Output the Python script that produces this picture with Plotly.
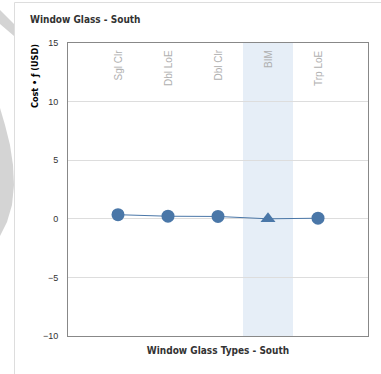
import plotly.graph_objects as go

categories = ["Sgl Clr", "Dbl LoE", "Dbl Clr", "BIM", "Trp LoE"]
costs = [0.35, 0.22, 0.2, 0.0, 0.05]
symbols = ["circle", "circle", "circle", "triangle-up", "circle"]
highlight = "BIM"
y_ticks = [-10, -5, 0, 5, 10, 15]

W, H = 381, 374
L, R, T, B = 68, 13, 43, 38
PW, PH = W - L - R, H - T - B


def px(x):
    return (x - L) / PW


def py(y):
    return 1 - (y - T) / PH


def path(points):
    return "M " + " L ".join(f"{px(x):.5f},{py(y):.5f}" for x, y in points) + " Z"


xs = list(range(len(categories)))
color = "#4a77a8"
fig = go.Figure()
fig.add_trace(go.Scatter(
    x=xs, y=costs, mode="lines+markers",
    line=dict(color=color, width=1),
    marker=dict(color=color, size=13, symbol=symbols),
    hoverinfo="skip", showlegend=False))

hi = categories.index(highlight)
fig.add_shape(type="rect", xref="x", yref="paper", x0=hi-0.5, x1=hi+0.5, y0=0, y1=1,
              fillcolor="#e6eef7", line_width=0, layer="below")

for i, c in enumerate(categories):
    fig.add_annotation(x=i, y=1, xref="x", yref="paper", text=c, textangle=-90,
                       showarrow=False, yanchor="top", yshift=-5,
                       font=dict(family="Liberation Sans", size=10, color="#b0b0b0"))

# background watermark pieces (left of card)
wm = "#d4d4d4"
fig.add_shape(type="path", xref="paper", yref="paper",
              path=path([(0, 10), (14, 24), (14, 36), (0, 24)]),
              fillcolor=wm, line_width=0, layer="below")
crescent = [(0, 108), (5, 125), (10, 145), (13, 165), (14, 185), (12, 205), (7, 222), (0, 236)]
fig.add_shape(type="path", xref="paper", yref="paper", path=path(crescent),
              fillcolor=wm, line_width=0, layer="below")

# card frame
fig.add_shape(type="line", xref="paper", yref="paper", x0=px(14.5), x1=px(14.5), y0=py(H), y1=py(2.5),
              line=dict(color="#dddddd", width=1))
fig.add_shape(type="line", xref="paper", yref="paper", x0=px(14.5), x1=px(W), y0=py(2.5), y1=py(2.5),
              line=dict(color="#dddddd", width=1))

fig.add_annotation(x=px(28), y=py(19), xref="paper", yref="paper", text="<b>Window Glass - South</b>",
                   showarrow=False, xanchor="left", yanchor="middle",
                   font=dict(family="DejaVu Sans Condensed", size=10, color="#333333"))

fig.add_annotation(x=px(35), y=py(42), xref="paper", yref="paper", text="<b>Cost • ƒ (USD)</b>",
                   showarrow=False, xanchor="center", yanchor="top", textangle=-90,
                   font=dict(family="DejaVu Sans Condensed", size=9, color="#000000"))

fig.update_layout(
    width=W, height=H,
    margin=dict(l=L, r=R, t=T, b=B),
    paper_bgcolor="white", plot_bgcolor="white",
    xaxis=dict(range=[-1, 5], showticklabels=False, showgrid=False, zeroline=False,
               showline=True, linecolor="#888888", linewidth=1, mirror=True, fixedrange=True,
               automargin=False,
               title=dict(text="<b>Window Glass Types - South</b>", standoff=10,
                          font=dict(family="DejaVu Sans Condensed", size=10, color="#333333"))),
    yaxis=dict(range=[-10, 15], tickvals=y_ticks, showgrid=True, gridcolor="#dddddd",
               zeroline=False, showline=True, linecolor="#888888", linewidth=1, mirror=True,
               ticks="", ticklabelstandoff=7, automargin=False,
               tickfont=dict(family="Liberation Sans", size=9, color="#333333")),
)
fig.write_html("out.html", config={"displayModeBar": False},
               post_script="document.body.style.margin='0';document.body.style.overflow='hidden';")
